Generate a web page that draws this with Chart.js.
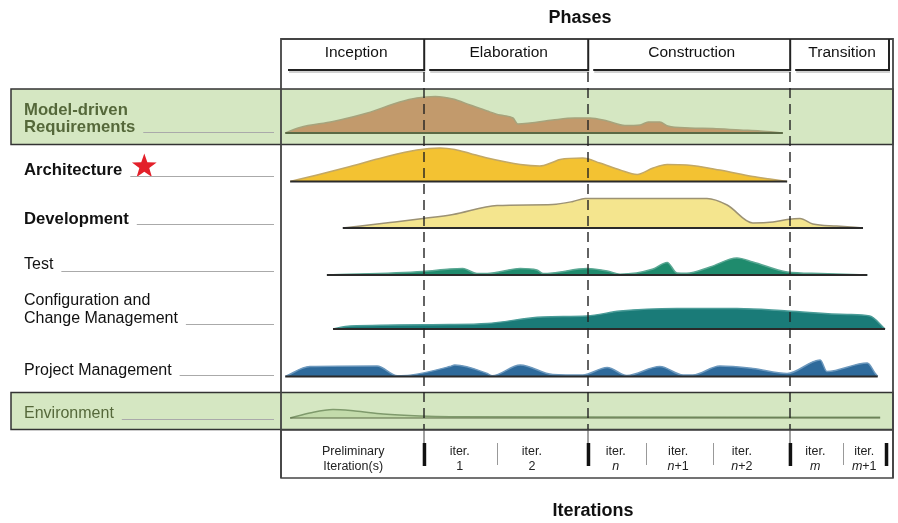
<!DOCTYPE html>
<html>
<head>
<meta charset="utf-8">
<script src="https://cdn.jsdelivr.net/npm/chart.js@4.4.1/dist/chart.umd.min.js"></script>
<style>
  html, body { margin: 0; padding: 0; background: #fff; }
  #wrap { width: 898px; height: 523px; position: relative; }
</style>
</head>
<body>
<div id="wrap"><canvas id="rup"></canvas></div>
<script>
// x = position on the project timeline (0 = start, 100 = end)
// y = relative effort of a discipline at that moment
const phaseNames = ["Inception", "Elaboration", "Construction", "Transition"];
const phaseEnds = [23.4, 50.2, 83.2, 100];

const iterTop = ["Preliminary", "iter.", "iter.", "iter.", "iter.", "iter.", "iter.", "iter."];
const iterBottom = ["Iteration(s)", "1", "2", "n", "n+1", "n+2", "m", "m+1"];
const iterCenters = [11.8, 29.2, 41.0, 54.7, 64.9, 75.3, 87.3, 95.3];
const iterSeparators = [35.3, 59.6, 70.6, 91.8];
const iterLastBar = 98.9;

const disciplines = [
  ["Model-driven", "Requirements"],
  ["Architecture"],
  ["Development"],
  ["Test"],
  ["Configuration and", "Change Management"],
  ["Project Management"],
  ["Environment"]
];

// [time, effort]
const requirements = [[0.7,0],[3.1,5.5],[8.5,11.5],[14.1,20],[19.4,31],[22.2,35],[25.2,36.5],[28.1,34],
  [30.9,28],[33.7,22],[35.8,18],[37.9,15],[38.7,9],[40.7,10],[44.4,13],[48.0,15],[50.5,15],[53.3,12],
  [56.2,7.5],[58.7,8],[60.0,11],[61.9,11],[63.2,7],[66.8,5],[70.6,4.5],[75.0,3],[78.3,2],[82.0,0]];
const architecture = [[1.5,0],[5.9,6.5],[11.3,15],[16.7,24],[22.2,31.5],[26.0,33.5],[28.4,32],[30.9,28],
  [33.7,23.5],[39.1,17],[42.3,15.5],[44.3,19],[45.6,22],[49.3,23.5],[52.1,18.5],[55.4,11.5],[58.2,7],
  [60.8,13.5],[63.1,17],[66.3,16.5],[71.7,11.5],[77.1,5],[79.9,2.5],[82.7,0]];
const development = [[10.1,0],[17.8,5.5],[23.2,9.5],[28.1,13.5],[35.3,22.5],[44.4,23.5],[47.7,26.5],
  [49.7,29.5],[69.6,29.5],[72.9,23],[77.1,5],[80.4,6],[82.7,8.5],[84.8,9.5],[86.9,4],[90.8,2],[95.1,0]];
const test = [[7.5,0],[23.2,3.5],[27.6,6],[29.7,6.5],[32.0,1.5],[33.7,1.5],[39.1,6.5],[41.8,5],[42.8,1.5],
  [44.4,2],[50.0,6.5],[53.3,4],[55.4,0.8],[60.8,6],[63.1,12.5],[64.7,2],[66.3,1.8],[70.1,8],[74.5,17],
  [77.1,13],[82.7,3],[88.1,1.5],[95.8,0]];
const configMgmt = [[8.5,0],[11.3,3],[27.6,4.5],[33.7,5.5],[42.8,12],[50.0,13],[55.4,18],[64.7,20.5],
  [74.5,20.5],[82.7,18],[92.5,14.5],[96.2,13],[98.7,0]];
const projectMgmt = [[0.7,0],[4.7,10],[15.7,10.5],[19.0,0.8],[21.1,1.3],[27.6,10],[28.4,11.5],[33.7,3],
  [34.5,0.7],[39.1,11.5],[44.4,2],[49.3,1.5],[53.3,9],[56.5,1],[61.9,10],[65.7,1.5],[67.3,1.5],[71.7,10.5],
  [77.1,8],[82.7,3],[88.1,16.5],[89.2,5],[95.8,13.5],[97.1,3],[97.5,0]];
const environment = [[1.5,0],[4.7,5],[8.5,8.5],[12.1,7],[16.7,4],[22.7,2],[27.6,1.3],[52.1,1],[97.9,0.8]];

const series = [requirements, architecture, development, test, configMgmt, projectMgmt, environment];

// layout and look of each lane (base = lane baseline on the y scale)
const lanes = [
  { base: 345,   fill: "#c29a6c", line: "#a6a37c", text: "#55683a", bold: true,  dy: [-23, -6], rule: -1 },
  { base: 296.5, fill: "#f3c232", line: "#c2a866", text: "#111",    bold: true,  dy: [-11],     rule: -5, star: true },
  { base: 250,   fill: "#f4e58e", line: "#9c9274", text: "#111",    bold: true,  dy: [-9],      rule: -4 },
  { base: 203,   fill: "#1f8b6d", line: "#5aa793", text: "#111",    bold: false, dy: [-10],     rule: -4 },
  { base: 149,   fill: "#1a7b78", line: "#4b9c98", text: "#111",    bold: false, dy: [-28, -10], rule: -5 },
  { base: 101.5, fill: "#2e6a9b", line: "#6c98bd", text: "#111",    bold: false, dy: [-6],      rule: -2 },
  { base: 60,    fill: "#c3dbab", line: "#7f9a6c", text: "#55683a", bold: false, dy: [-4],      rule: 1 }
];
const bands = [{ top: 389, bottom: 333.5 }, { top: 85.5, bottom: 48.5 }];
const headerBottom = 408;
const iterRowTop = 48;

const FONT = '"Liberation Sans", Arial, Helvetica, sans-serif';

function drawStar(ctx, cx, cy, R, r) {
  ctx.beginPath();
  for (let i = 0; i < 10; i++) {
    const a = -Math.PI / 2 + i * Math.PI / 5;
    const rad = i % 2 ? r : R;
    ctx.lineTo(cx + rad * Math.cos(a), cy + rad * Math.sin(a));
  }
  ctx.closePath();
  ctx.fill();
}

function drawRuns(ctx, runs, cx, cy, size) {
  let total = 0;
  runs.forEach(r => {
    ctx.font = (r.italic ? "italic " : "") + size + "px " + FONT;
    r.w = ctx.measureText(r.t).width;
    total += r.w;
  });
  let x0 = cx - total / 2;
  ctx.textAlign = "left";
  runs.forEach(r => {
    ctx.font = (r.italic ? "italic " : "") + size + "px " + FONT;
    ctx.fillText(r.t, x0, cy);
    x0 += r.w;
  });
}

const diagram = {
  id: "diagram",
  beforeDatasetsDraw(chart) {
    const { ctx } = chart;
    const x = chart.scales.x, y = chart.scales.y;
    ctx.save();
    bands.forEach(b => {
      const t = y.getPixelForValue(b.top), btm = y.getPixelForValue(b.bottom);
      ctx.fillStyle = "#d5e7c2";
      ctx.fillRect(11, t, x.right - 11, btm - t);
    });
    ctx.restore();
  },
  afterDatasetsDraw(chart) {
    const { ctx } = chart;
    const x = chart.scales.x, y = chart.scales.y;
    const area = chart.chartArea;
    ctx.save();

    // baselines under each hump
    series.forEach((pts, i) => {
      const by = y.getPixelForValue(lanes[i].base);
      ctx.strokeStyle = i === 0 || i === 6 ? "#5b6a45" : "#2a2a2a";
      ctx.lineWidth = i === 6 ? 1.2 : 2;
      ctx.beginPath();
      ctx.moveTo(x.getPixelForValue(pts[0][0]), by);
      ctx.lineTo(x.getPixelForValue(pts[pts.length - 1][0]), by);
      ctx.stroke();
    });

    // band borders
    ctx.strokeStyle = "#333";
    ctx.lineWidth = 1.5;
    bands.forEach(b => {
      const t = y.getPixelForValue(b.top), btm = y.getPixelForValue(b.bottom);
      ctx.strokeRect(11, t, x.right - 11, btm - t);
    });

    // outer frame
    ctx.strokeStyle = "#444";
    ctx.lineWidth = 1.8;
    ctx.beginPath();
    ctx.moveTo(area.left, area.bottom); ctx.lineTo(area.left, area.top);
    ctx.lineTo(area.right, area.top); ctx.lineTo(area.right, area.bottom);
    ctx.stroke();

    // phase header boxes
    const hb = y.getPixelForValue(headerBottom);
    let prev = 0;
    phaseNames.forEach((name, i) => {
      const l = x.getPixelForValue(prev) + (i === 0 ? 7 : 5);
      const r = i === phaseNames.length - 1 ? area.right - 4 : x.getPixelForValue(phaseEnds[i]);
      ctx.strokeStyle = "rgba(0,0,0,0.18)";
      ctx.lineWidth = 2;
      ctx.beginPath(); ctx.moveTo(l + 1, hb + 2); ctx.lineTo(r + 1, hb + 2); ctx.stroke();
      ctx.strokeStyle = "#222";
      ctx.lineWidth = 2;
      ctx.beginPath();
      ctx.moveTo(l, hb); ctx.lineTo(r, hb); ctx.lineTo(r, area.top);
      ctx.stroke();
      ctx.fillStyle = "#111";
      ctx.font = "15.5px " + FONT;
      ctx.textAlign = "center";
      ctx.textBaseline = "middle";
      ctx.fillText(name, (l + r) / 2, area.top + 14);
      prev = phaseEnds[i];
    });

    // dashed phase dividers
    const it = y.getPixelForValue(iterRowTop);
    ctx.strokeStyle = "#222";
    ctx.lineWidth = 1.4;
    ctx.setLineDash([10, 6]);
    phaseEnds.slice(0, 3).forEach(v => {
      const px = Math.round(x.getPixelForValue(v));
      ctx.beginPath(); ctx.moveTo(px, hb + 2); ctx.lineTo(px, it); ctx.stroke();
    });
    ctx.setLineDash([]);

    // iteration row
    ctx.strokeStyle = "#444";
    ctx.lineWidth = 1.5;
    ctx.strokeRect(area.left, it, area.right - area.left, area.bottom - it);
    phaseEnds.slice(0, 3).forEach(v => {
      const px = Math.round(x.getPixelForValue(v));
      ctx.lineWidth = 1;
      ctx.beginPath(); ctx.moveTo(px, it); ctx.lineTo(px, it + 13); ctx.stroke();
    });
    ctx.fillStyle = "#111";
    phaseEnds.slice(0, 3).concat([iterLastBar]).forEach(v => {
      const px = x.getPixelForValue(v);
      ctx.fillRect(px - 1.5, it + 13, 3.5, 23);
    });
    ctx.strokeStyle = "#999";
    ctx.lineWidth = 1;
    iterSeparators.forEach(v => {
      const px = Math.round(x.getPixelForValue(v)) + 0.5;
      ctx.beginPath(); ctx.moveTo(px, it + 13); ctx.lineTo(px, it + 35); ctx.stroke();
    });
    ctx.fillStyle = "#222";
    ctx.textBaseline = "middle";
    iterCenters.forEach((v, i) => {
      const cx = x.getPixelForValue(v);
      ctx.font = "12.5px " + FONT;
      ctx.textAlign = "center";
      ctx.fillText(iterTop[i], cx, it + 22);
      const lbl = iterBottom[i];
      const runs = /^[nm]/.test(lbl)
        ? [{ t: lbl[0], italic: true }, { t: lbl.slice(1), italic: false }]
        : [{ t: lbl, italic: false }];
      drawRuns(ctx, runs, cx, it + 37, 12.5);
    });

    // titles
    ctx.fillStyle = "#111";
    ctx.textAlign = "center";
    ctx.font = "bold 18px " + FONT;
    ctx.fillText("Phases", 580, 18);
    ctx.fillText("Iterations", 593, 511);

    // lane labels
    lanes.forEach((ln, i) => {
      const by = y.getPixelForValue(ln.base);
      ctx.fillStyle = ln.text;
      ctx.textAlign = "left";
      ctx.font = (ln.bold ? "bold 16.7px " : "16px ") + FONT;
      let end = 0;
      disciplines[i].forEach((t, j) => {
        ctx.fillText(t, 24, by + ln.dy[j]);
        end = 24 + ctx.measureText(t).width;
      });
      if (ln.star) {
        ctx.fillStyle = "#e3202a";
        drawStar(ctx, end + 22, by + ln.dy[0] - 4, 13, 5.2);
      }
      ctx.strokeStyle = "#aaa";
      ctx.lineWidth = 1;
      ctx.beginPath();
      ctx.moveTo(end + 8, Math.round(by + ln.rule) + 0.5);
      ctx.lineTo(274, Math.round(by + ln.rule) + 0.5);
      ctx.stroke();
    });

    ctx.restore();
  }
};

new Chart(document.getElementById("rup"), {
  type: "line",
  data: {
    datasets: series.map((pts, i) => ({
      label: disciplines[i].join(" "),
      data: pts.map(p => ({ x: p[0], y: lanes[i].base + p[1] })),
      fill: { value: lanes[i].base },
      backgroundColor: lanes[i].fill,
      borderColor: lanes[i].line,
      borderWidth: 1.5,
      pointRadius: 0,
      cubicInterpolationMode: "monotone"
    }))
  },
  options: {
    responsive: true,
    maintainAspectRatio: false,
    animation: false,
    layout: { padding: { left: 281, right: 5, top: 39, bottom: 45 } },
    plugins: { legend: { display: false }, tooltip: { enabled: false } },
    scales: {
      x: { type: "linear", min: 0, max: 100, display: false },
      y: { type: "linear", min: 0, max: 439, display: false }
    }
  },
  plugins: [diagram]
});
</script>
</body>
</html>
